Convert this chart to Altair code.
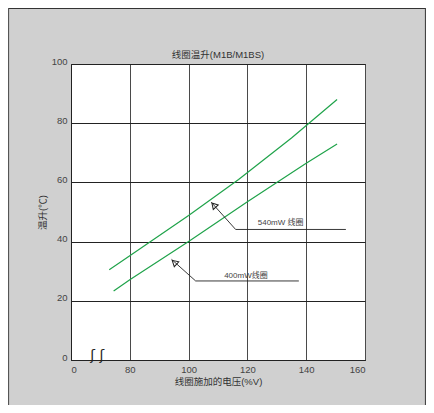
import altair as alt
import pandas as pd

FONT = "Liberation Sans, Noto Sans CJK SC"

# --- data ---
voltage_540 = [73, 80, 100, 117, 135, 150.5]
temp_540 = [30.5, 35.2, 48.8, 61, 75, 88]
voltage_400 = [74.5, 80, 100, 120, 140, 150.5]
temp_400 = [23.3, 27.1, 40, 53.5, 66.5, 73]

x_ticks = [60, 80, 100, 120, 140, 160]
y_ticks = [0, 20, 40, 60, 80, 100]

chart_title = "线圈温升(M1B/M1BS)"

# annotation leader lines (data coordinates): tip -> corner -> end
ann_540_x = [107.7, 116.0, 153.5]
ann_540_y = [53.3, 44.1, 44.1]
ann_400_x = [94.2, 102.4, 137.5]
ann_400_y = [34.0, 26.7, 26.7]
head_x = [108.8, 95.4]
head_y = [52.1, 32.8]
head_angle = [318, 312]
label_text = ["540mW 线圈", "400mW线圈"]
label_x = [131.3, 119.5]
label_y = [45.6, 27.8]

curves = pd.concat([
    pd.DataFrame({"v": voltage_540, "t": temp_540, "s": "540mW"}),
    pd.DataFrame({"v": voltage_400, "t": temp_400, "s": "400mW"}),
])
leaders = pd.concat([
    pd.DataFrame({"v": ann_540_x, "t": ann_540_y, "s": "a540", "o": [0, 1, 2]}),
    pd.DataFrame({"v": ann_400_x, "t": ann_400_y, "s": "a400", "o": [0, 1, 2]}),
])
heads = pd.DataFrame({"v": head_x, "t": head_y, "a": head_angle})
labels = pd.DataFrame({"v": label_x, "t": label_y, "txt": label_text})
brk = pd.DataFrame({"v": [68.9], "t": [1.2], "txt": ["ʃ ʃ"]})

xs = alt.Scale(domain=[60, 160], nice=False, zero=False)
ys = alt.Scale(domain=[0, 100], nice=False)

X = alt.X("v:Q", scale=xs, axis=alt.Axis(
    values=x_ticks, labelExpr="datum.value == 60 ? '0' : datum.label",
    grid=True, gridColor="#4a4a4a", gridOpacity=1, gridWidth=1,
    domainColor="#222", tickSize=0, labelPadding=4,
    labelColor="#444", labelFontSize=9.5, labelFont=FONT,
    title="线圈施加的电压(%V)", titleFont=FONT, titleFontSize=9.5,
    titleFontWeight="normal", titleColor="#333", titlePadding=3))
Y = alt.Y("t:Q", scale=ys, axis=alt.Axis(
    values=y_ticks, grid=True, gridColor="#222", gridOpacity=1, gridWidth=1,
    domainColor="#222", tickSize=0, labelPadding=4, labelBaseline="alphabetic",
    labelColor="#444", labelFontSize=9.5, labelFont=FONT,
    title="温升(℃)", titleFont=FONT, titleFontSize=9.5,
    titleFontWeight="normal", titleColor="#333", titlePadding=4))

base = alt.Chart(curves).mark_line(color="#1fa34a", strokeWidth=1.2, clip=True).encode(
    x=X, y=Y, detail="s:N")

lead = alt.Chart(leaders).mark_line(color="#222", strokeWidth=0.9).encode(
    x=alt.X("v:Q", scale=xs), y=alt.Y("t:Q", scale=ys), detail="s:N", order="o:Q")

arrow = alt.Chart(heads).mark_point(shape="triangle", filled=False, color="#222",
                                     strokeWidth=1, size=45, opacity=1).encode(
    x=alt.X("v:Q", scale=xs), y=alt.Y("t:Q", scale=ys), angle=alt.Angle("a:Q", scale=None))

txt = alt.Chart(labels).mark_text(font=FONT, fontSize=8, color="#444", baseline="alphabetic").encode(
    x=alt.X("v:Q", scale=xs), y=alt.Y("t:Q", scale=ys), text="txt:N")

brk_txt = alt.Chart(brk).mark_text(font="DejaVu Sans", fontSize=14, color="#222",
                                   baseline="middle").encode(
    x=alt.X("v:Q", scale=xs), y=alt.Y("t:Q", scale=ys), text="txt:N")

title_mark = alt.Chart(pd.DataFrame({"txt": [chart_title]})).mark_text(
    font=FONT, fontSize=9.5, color="#333", baseline="alphabetic").encode(
    x=alt.value(147), y=alt.value(-6), text="txt:N")

one = pd.DataFrame({"k": [0]})
frame = alt.Chart(one).mark_rule(color="#333", strokeWidth=1.2).encode(
    x=alt.value(-63), x2=alt.value(355), y=alt.value(-55.5))
frame_l = alt.Chart(one).mark_rule(color="#555", strokeWidth=1.2).encode(
    x=alt.value(-62.5), y=alt.value(-56), y2=alt.value(341))
frame_r = alt.Chart(one).mark_rule(color="#444", strokeWidth=1.2).encode(
    x=alt.value(354.5), y=alt.value(-56), y2=alt.value(341))

chart = alt.layer(base, lead, arrow, txt, brk_txt, title_mark, frame, frame_l, frame_r).properties(
    width=294, height=296,
    padding={"left": 63, "top": 56, "right": 61, "bottom": 45},
    autosize=alt.AutoSizeParams(type="none"),
    background="#d0d0d0",
).configure_view(fill="white", stroke="#111", strokeWidth=1)

chart.save("out.html", embed_options={"renderer": "svg", "actions": False})
